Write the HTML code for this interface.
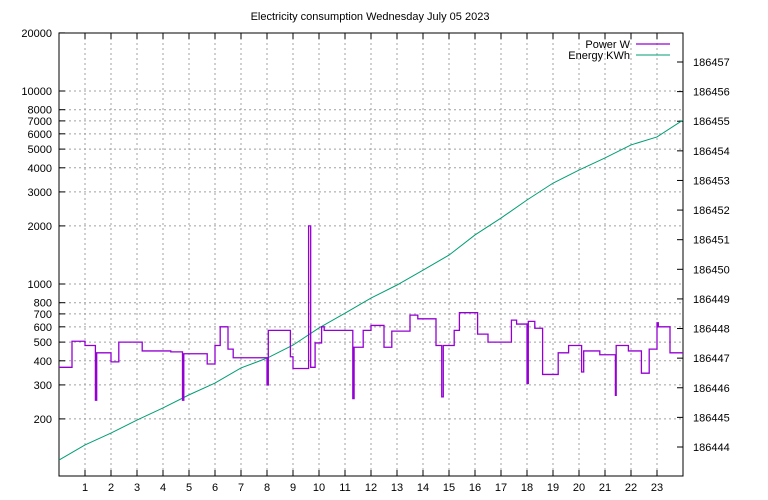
<!DOCTYPE html>
<html><head><meta charset="utf-8"><style>
body{margin:0;background:#fff}
svg{display:block;font-family:"Liberation Sans","DejaVu Sans",sans-serif;font-size:11px}
</style></head><body>
<svg id="c" width="768" height="500"></svg>
<script>
const hourTicks=[1,2,3,4,5,6,7,8,9,10,11,12,13,14,15,16,17,18,19,20,21,22,23];
const leftTicks=[200,300,400,500,600,700,800,1000,2000,3000,4000,5000,6000,7000,8000,10000,20000];
const rightTicks=[186444,186445,186446,186447,186448,186449,186450,186451,186452,186453,186454,186455,186456,186457];
const energyHours=[0,1,2,3,4,5,6,7,8,9,10,11,12,13,14,15,16,17,18,19,20,21,22,23,24];
const energyValues=[186443.56,186444.07,186444.47,186444.91,186445.32,186445.76,186446.16,186446.67,186447.0,186447.44,186448.02,186448.52,186449.03,186449.47,186449.97,186450.48,186451.16,186451.73,186452.34,186452.91,186453.35,186453.76,186454.2,186454.47,186455.04];
const powerHours=[0,0.5,1.0,1.4,1.45,2.0,2.3,3.2,4.3,4.75,4.8,5.7,6.0,6.2,6.5,6.7,8.0,8.05,8.9,9.0,9.6,9.68,9.85,10.1,10.2,11.3,11.35,11.7,12.0,12.5,12.8,13.5,13.8,14.5,14.72,14.78,15.2,15.4,16.1,16.5,17.4,17.6,18.0,18.05,18.3,18.6,19.2,19.6,20.1,20.18,20.8,21.4,21.43,21.9,22.4,22.7,23.0,23.05,23.5,24];
const powerValues=[370,505,480,250,440,395,500,450,445,250,435,385,480,600,460,415,300,575,420,365,2000,370,495,600,575,255,470,575,610,470,570,690,660,480,260,480,575,710,550,500,650,620,305,640,590,340,440,480,350,450,430,265,480,450,345,460,630,600,440,440];
const L=59,R=683,T=33,B=476;
const NS="http://www.w3.org/2000/svg",svg=document.getElementById('c');
const xs=h=>L+(R-L)*h/24;
const yl=v=>284-193*Math.log10(v/1000);
const yr=v=>62+(186457-v)*29.615;
function el(t,a,txt){const e=document.createElementNS(NS,t);for(const k in a)e.setAttribute(k,a[k]);if(txt!==undefined)e.textContent=txt;svg.appendChild(e);return e;}
let e=el('text',{x:370,y:20,'text-anchor':'middle'},'Electricity consumption Wednesday July 05 2023');

hourTicks.forEach(h=>{const x=xs(h);
 e=el('line',{x1:x,y1:T,x2:x,y2:B,stroke:'#a0a0a0','stroke-dasharray':'2,3'});
 el('line',{x1:x,y1:B,x2:x,y2:B-6,stroke:'#000'});el('line',{x1:x,y1:T,x2:x,y2:T+6,stroke:'#000'});
 e=el('text',{x:x,y:491,'text-anchor':'middle'},String(h));});
leftTicks.forEach(v=>{const y=yl(v);
 if(v<20000){e=el('line',{x1:L,y1:y,x2:R,y2:y,stroke:'#a0a0a0','stroke-dasharray':'2,3'});}
 el('line',{x1:L,y1:y,x2:L+6,y2:y,stroke:'#000'});
 e=el('text',{x:52,y:y+4,'text-anchor':'end'},String(v));});
rightTicks.forEach(v=>{const y=yr(v);
 el('line',{x1:R,y1:y,x2:R-6,y2:y,stroke:'#000'});
 e=el('text',{x:693,y:y+4},String(v));});
e=el('rect',{x:L,y:T,width:R-L,height:B-T,fill:'none',stroke:'#000'});
let d='';energyHours.forEach((h,i)=>{d+=(i?'L':'M')+xs(h)+','+yr(energyValues[i]);});
e=el('path',{d:d,fill:'none',stroke:'#009e73','stroke-width':1});
d='';powerHours.forEach((h,i)=>{const x=xs(h),y=yl(powerValues[i]);if(i===0)d='M'+x+','+y;else d+='L'+x+','+yl(powerValues[i-1])+'L'+x+','+y;});
e=el('path',{d:d,fill:'none',stroke:'#9400d3','stroke-width':1.3});
e=el('text',{x:630,y:48,'text-anchor':'end'},'Power W');
e=el('line',{x1:636,y1:44,x2:670,y2:44,stroke:'#9400d3','stroke-width':1.3});
e=el('text',{x:630,y:59,'text-anchor':'end'},'Energy KWh');
e=el('line',{x1:636,y1:55,x2:670,y2:55,stroke:'#009e73'});
</script>
</body></html>
